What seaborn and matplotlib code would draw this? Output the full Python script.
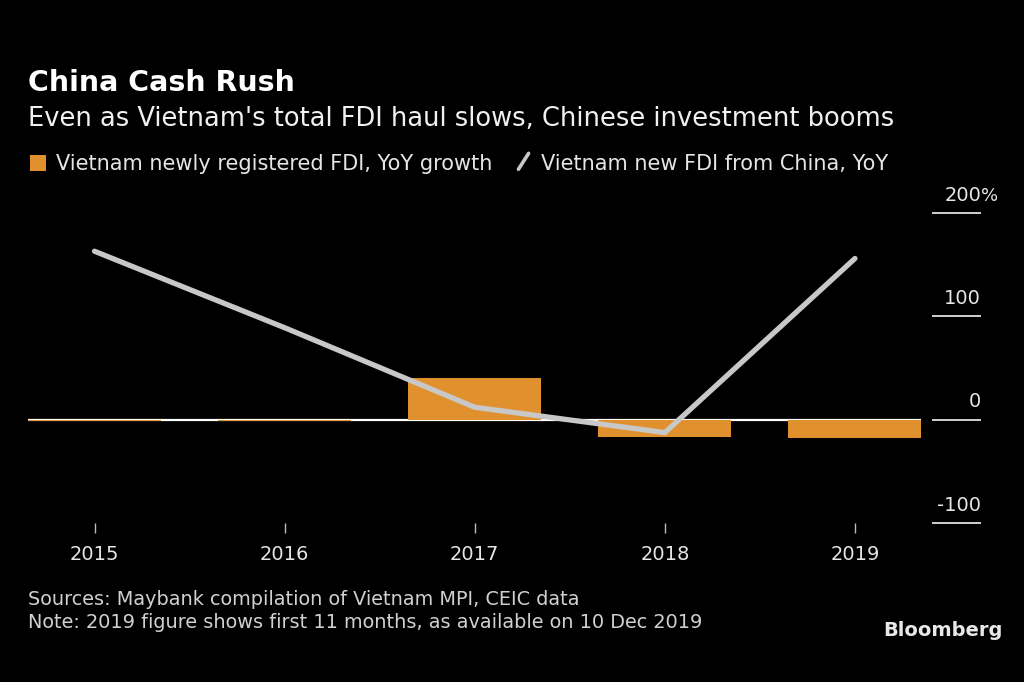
import numpy as np
import pandas as pd
import matplotlib
matplotlib.use("Agg")
import matplotlib.pyplot as plt
import matplotlib.transforms as mtransforms
from matplotlib.legend_handler import HandlerBase
from matplotlib.lines import Line2D
from matplotlib.patches import Patch
import seaborn as sns

# ---- data ----
years = ["2015", "2016", "2017", "2018", "2019"]
fdi_total_yoy = [-1.0, -1.5, 40.0, -16.5, -17.5]
fdi_china_yoy = [163.0, 89.0, 12.0, -12.5, 156.0]
y_ticks = [-100, 0, 100, 200]
y_tick_labels = ["-100", "0", "100", "200"]

title = "China Cash Rush"
subtitle = "Even as Vietnam's total FDI haul slows, Chinese investment booms"
legend_labels = ["Vietnam newly registered FDI, YoY growth", "Vietnam new FDI from China, YoY"]
source_text = "Sources: Maybank compilation of Vietnam MPI, CEIC data"
note_text = "Note: 2019 figure shows first 11 months, as available on 10 Dec 2019"

ORANGE = "#e0902c"
GREY = "#c8c8c8"
TEXT = "#e6e6e6"
BG = "#000000"

sns.set_theme(style="dark")
plt.rcParams["font.family"] = ["DejaVu Sans"]
plt.rcParams["figure.facecolor"] = BG
plt.rcParams["axes.facecolor"] = BG

W, H = 1024, 682
fig = plt.figure(figsize=(W / 100, H / 100), dpi=100)
ax = fig.add_axes([28 / W, 1 - 523 / H, (981 - 28) / W, (523 - 213) / H])

df = pd.DataFrame({"year": years, "pos": np.arange(len(years)),
                   "total": fdi_total_yoy, "china": fdi_china_yoy})

sns.barplot(data=df, x="year", y="total", color=ORANGE, width=0.7,
            saturation=1, ax=ax, zorder=2)
for p in ax.patches:
    p.set_edgecolor("none")

# zero line over the data area
ax.hlines(0, -0.35, 4.35, color="#ffffff", lw=1.6, zorder=1)

sns.lineplot(data=df, x="pos", y="china", color=GREY, lw=3.8, ax=ax,
             zorder=3, solid_capstyle="round", solid_joinstyle="miter")

ax.set_xlim(-0.35, 4.663)
ax.set_ylim(-100, 200)
ax.set_xlabel("")
ax.set_ylabel("")
for s in ax.spines.values():
    s.set_visible(False)
ax.grid(False)

ax.set_xticks(np.arange(len(years)))
ax.set_xticklabels(years)
ax.tick_params(axis="x", bottom=True, colors="#bbbbbb", length=7, width=1.0,
               pad=9, labelsize=14, labelcolor=TEXT, direction="out")

ax.yaxis.tick_right()
ax.set_yticks(y_ticks)
ax.set_yticklabels(y_tick_labels)
ax.tick_params(axis="y", right=True, direction="in", length=35.3, width=1.3,
               colors="#e0e0e0", pad=0, labelsize=14, labelcolor=TEXT)
offset = mtransforms.ScaledTranslation(0, 6 / 72, fig.dpi_scale_trans)
for lab in ax.get_yticklabels():
    lab.set_horizontalalignment("right")
    lab.set_verticalalignment("bottom")
    lab.set_transform(lab.get_transform() + offset)
# percent sign after the top label
ax.text(1.0, y_ticks[-1], "%", transform=ax.get_yaxis_transform() + offset,
        ha="left", va="bottom", fontsize=13, color=TEXT)


class SlashHandler(HandlerBase):
    def create_artists(self, legend, orig_handle, xdescent, ydescent,
                       width, height, fontsize, trans):
        l = Line2D([xdescent + width * 0.2, xdescent + width * 0.85],
                   [ydescent, ydescent + height],
                   color=GREY, lw=2.6, solid_capstyle="round")
        l.set_transform(trans)
        return [l]


handles = [Patch(facecolor=ORANGE, edgecolor="none"),
           Line2D([], [], color=GREY)]
leg = fig.legend(handles, legend_labels, ncol=2, loc="center left",
                 bbox_to_anchor=(30 / W, 1 - 164 / H), frameon=False,
                 fontsize=15, labelcolor=TEXT, handlelength=0.75,
                 handleheight=0.8, handletextpad=0.5, columnspacing=1.1,
                 borderpad=0, borderaxespad=0,
                 handler_map={Line2D: SlashHandler()})

fig.text(28 / W, 1 - 91 / H, title, fontsize=20.4, fontweight="bold",
         color="#ffffff", ha="left", va="baseline")
fig.text(28 / W, 1 - 126 / H, subtitle, fontsize=18.5, color="#f0f0f0",
         ha="left", va="baseline")
fig.text(28 / W, 1 - 605 / H, source_text, fontsize=13.9, color="#d0d0d0",
         ha="left", va="baseline")
fig.text(28 / W, 1 - 628 / H, note_text, fontsize=13.9, color="#d0d0d0",
         ha="left", va="baseline")
fig.text(1003 / W, 1 - 636 / H, "Bloomberg", fontsize=14, fontweight="bold",
         color="#e8e8e8", ha="right", va="baseline")

fig.savefig("out.png", dpi=100, facecolor=BG)
